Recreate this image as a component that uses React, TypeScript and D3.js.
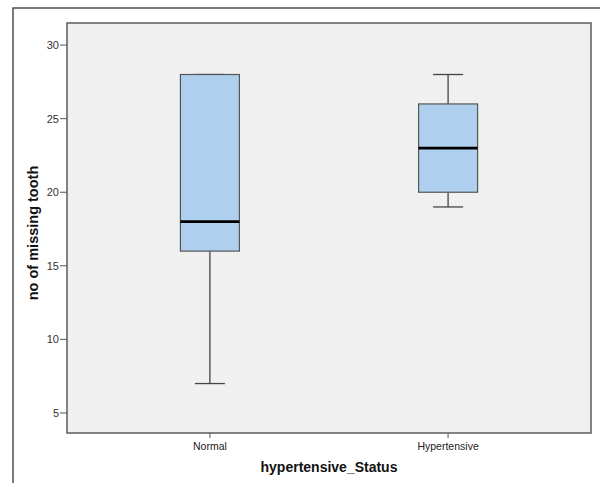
import React from "react";
import * as d3 from "d3";

const categories = ["Normal", "Hypertensive"];
const whiskerLow = [7, 19];
const q1 = [16, 20];
const median = [18, 23];
const q3 = [28, 26];
const whiskerHigh = [28, 28];
const yTicks = [5, 10, 15, 20, 25, 30];

const W = 600;
const H = 483;
const plot = { left: 67, right: 591, top: 23, bottom: 433 };

export default function App() {
  const x = d3
    .scalePoint<string>()
    .domain(categories)
    .range([plot.left, plot.right])
    .padding(0.6);
  const y = d3.scaleLinear().domain([3.64, 31.5]).range([plot.bottom, plot.top]);
  const boxW = 59;
  const capW = 30;
  const font = "'Liberation Sans', Arial, sans-serif";

  return (
    <svg
      width={W}
      height={H}
      style={{ position: "absolute", left: 0, top: 0, background: "#fff" }}
      fontFamily={font}
    >
      <rect x={13} y={8} width={700} height={600} fill="#fff" stroke="#333" strokeWidth={1.3} />
      <rect
        x={plot.left}
        y={plot.top}
        width={plot.right - plot.left}
        height={plot.bottom - plot.top}
        fill="#f0f0f0"
        stroke="#666"
        strokeWidth={1.6}
      />
      {yTicks.map((t) => (
        <g key={t}>
          <line x1={plot.left - 7} x2={plot.left} y1={y(t)} y2={y(t)} stroke="#555" strokeWidth={1} />
          <text x={plot.left - 8} y={y(t)} dy="0.35em" textAnchor="end" fontSize={11} fill="#333">
            {t}
          </text>
        </g>
      ))}
      {categories.map((c) => (
        <g key={c}>
          <line x1={x(c)} x2={x(c)} y1={plot.bottom} y2={plot.bottom + 5} stroke="#555" strokeWidth={1} />
          <text x={x(c)} y={plot.bottom + 17} textAnchor="middle" fontSize={10.5} fill="#222">
            {c}
          </text>
        </g>
      ))}
      {categories.map((c, i) => {
        const cx = x(c) as number;
        return (
          <g key={"box" + c}>
            <line x1={cx} x2={cx} y1={y(whiskerHigh[i])} y2={y(q3[i])} stroke="#444" strokeWidth={1.3} />
            <line x1={cx} x2={cx} y1={y(q1[i])} y2={y(whiskerLow[i])} stroke="#444" strokeWidth={1.3} />
            <line x1={cx - capW / 2} x2={cx + capW / 2} y1={y(whiskerHigh[i])} y2={y(whiskerHigh[i])} stroke="#444" strokeWidth={1.3} />
            <line x1={cx - capW / 2} x2={cx + capW / 2} y1={y(whiskerLow[i])} y2={y(whiskerLow[i])} stroke="#444" strokeWidth={1.3} />
            <rect
              x={cx - boxW / 2}
              y={y(q3[i])}
              width={boxW}
              height={y(q1[i]) - y(q3[i])}
              fill="#aed0ee"
              stroke="#555"
              strokeWidth={1.2}
            />
            <line x1={cx - boxW / 2} x2={cx + boxW / 2} y1={y(median[i])} y2={y(median[i])} stroke="#000" strokeWidth={2.6} />
          </g>
        );
      })}
      <text
        x={(plot.left + plot.right) / 2}
        y={472}
        textAnchor="middle"
        fontSize={14}
        fontWeight="bold"
        fill="#111"
      >
        hypertensive_Status
      </text>
      <text
        transform={`translate(38,233) rotate(-90)`}
        textAnchor="middle"
        fontSize={14.5}
        fontWeight="bold"
        fill="#111"
      >
        no of missing tooth
      </text>
    </svg>
  );
}
